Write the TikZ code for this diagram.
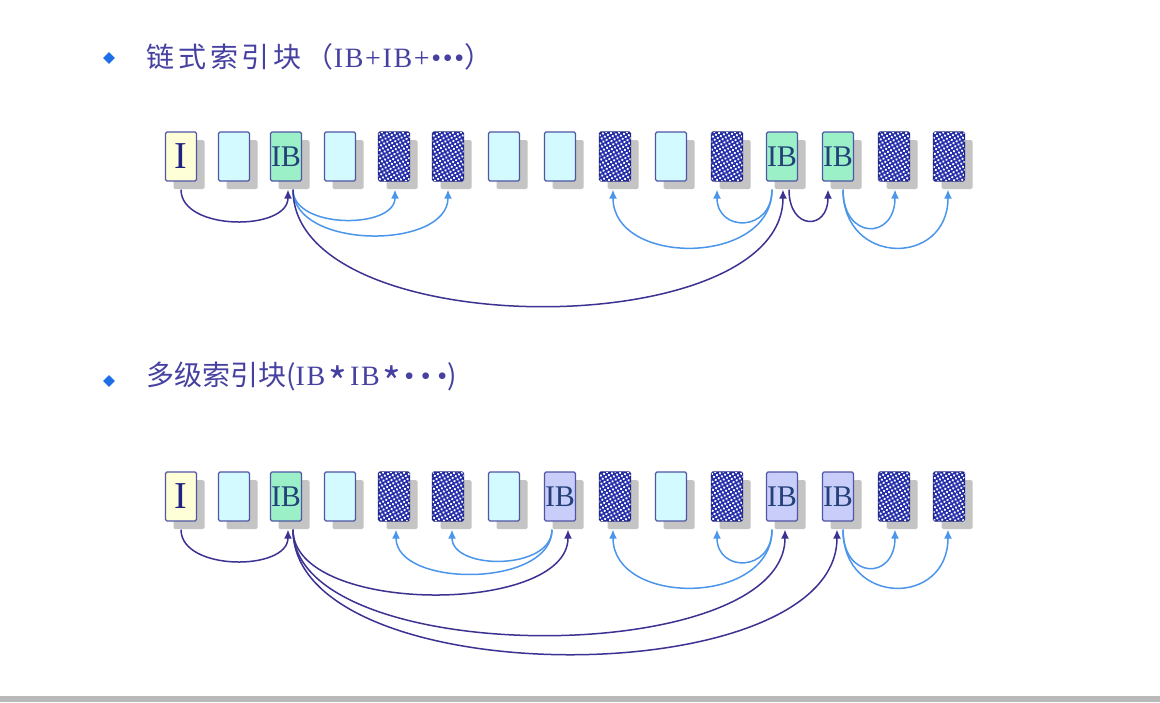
\documentclass[tikz,border=0pt]{standalone}
\usepackage{fontspec}
\usepackage{xcolor}
\usepackage{tikz}
\usetikzlibrary{calc}
\usetikzlibrary{arrows.meta}
\usetikzlibrary{shapes.geometric}
\usetikzlibrary{shadows}
\usetikzlibrary{patterns.meta}
\setmainfont{Liberation Serif}
\newfontfamily\cjk{Noto Sans CJK SC}
\newfontfamily\cjkwide[LetterSpace=14]{Noto Sans CJK SC}
\newfontfamily\latwide[LetterSpace=6]{Liberation Serif}
\newfontfamily\latwider[LetterSpace=24]{Liberation Serif}
\newcommand{\askbig}{\kern3pt\raisebox{-12pt}{\fontsize{40}{40}\selectfont *}\kern3pt}
\definecolor{blkline}{RGB}{80,85,165}
\definecolor{ifill}{RGB}{255,255,215}
\definecolor{efill}{RGB}{210,250,255}
\definecolor{ibgreen}{RGB}{155,240,200}
\definecolor{iblav}{RGB}{200,205,250}
\definecolor{datfill}{RGB}{35,45,170}
\definecolor{datline}{RGB}{30,35,130}
\definecolor{shade}{RGB}{196,196,196}
\definecolor{ibtext}{RGB}{35,65,120}
\definecolor{ptrcol}{RGB}{60,50,145}
\definecolor{lnkcol}{RGB}{75,150,235}
\definecolor{ttl}{RGB}{70,65,160}
\definecolor{bullet}{RGB}{30,110,230}
\tikzset{>={Latex[length=9pt,width=8pt]}}
\tikzstyle{blk} = [rectangle, draw=blkline, line width=1.2pt, rounded corners=1.5pt, minimum width=31pt, minimum height=49pt, inner sep=0pt, drop shadow={shadow xshift=8pt, shadow yshift=-8pt, fill=shade, opacity=1}, text=ibtext, font=\fontsize{30}{30}\selectfont]
\tikzstyle{inode} = [blk, fill=ifill, text=datline, font=\fontsize{38}{38}\selectfont]
\tikzstyle{emp} = [blk, fill=efill]
\tikzstyle{ib} = [blk, fill=ibgreen]
\tikzstyle{ibl} = [blk, fill=iblav]
\tikzstyle{dat} = [blk, draw=datline, fill=datfill, postaction={pattern={Dots[distance=3.6pt, radius=1.3pt, angle=30]}, pattern color=white}]
\tikzstyle{ptr} = [->, draw=ptrcol, line width=1.5pt]
\tikzstyle{lnk} = [->, draw=lnkcol, line width=1.5pt]

\begin{document}
\begin{tikzpicture}[x=1pt, y=1pt]
\fill [white] (0,0) rectangle (1160,-702);
\useasboundingbox (0,0) rectangle (1160,-702);
\fill [gray!55] (0,-696) rectangle (1160,-702);

% titles
\node [diamond, fill=bullet, inner sep=0pt, minimum size=12pt] (D1) at (109,-58) {};
\node [anchor=west, inner sep=0pt, text=ttl, font=\fontsize{28}{28}\selectfont] (T1) at (146,-57) {\cjkwide 链式索引块（{\latwide IB+IB+•••}）};
\node [diamond, fill=bullet, inner sep=0pt, minimum size=12pt] (D2) at (109,-381) {};
\node [anchor=west, inner sep=0pt, text=ttl, font=\fontsize{28}{28}\selectfont] (T2) at (146,-380) {\cjk 多级索引块({\latwide IB}\askbig{\latwide IB}\askbig{\latwider •••})};

% chained index blocks
\node [inode] (C1) at (181,-156.5) {I};
\node [emp] (C2) at (234,-156.5) {};
\node [ib] (C3) at (286,-156.5) {IB};
\node [emp] (C4) at (340,-156.5) {};
\node [dat] (C5) at (394,-156.5) {};
\node [dat] (C6) at (448,-156.5) {};
\node [emp] (C7) at (504,-156.5) {};
\node [emp] (C8) at (560,-156.5) {};
\node [dat] (C9) at (615,-156.5) {};
\node [emp] (C10) at (671,-156.5) {};
\node [dat] (C11) at (727,-156.5) {};
\node [ib] (C12) at (782,-156.5) {IB};
\node [ib] (C13) at (838,-156.5) {IB};
\node [dat] (C14) at (894,-156.5) {};
\node [dat] (C15) at (949,-156.5) {};

\draw [ptr] ($(C1.south)+(0,-8)$) to [out=-90, in=-90, looseness=1] ($(C3.south)+(2,-8)$);
\draw [lnk] ($(C3.south)+(7,-8)$) to [out=-90, in=-90, looseness=1] ($(C5.south)+(1,-8)$);
\draw [lnk] ($(C3.south)+(7,-8)$) to [out=-90, in=-90, looseness=1] ($(C6.south)+(0,-8)$);
\draw [ptr] ($(C3.south)+(7,-8)$) to [out=-90, in=-90, looseness=0.81] ($(C12.south)+(1,-8)$);
\draw [lnk] ($(C12.south)+(-10,-8)$) to [out=-90, in=-90, looseness=1.24] ($(C9.south)+(-2,-8)$);
\draw [lnk] ($(C12.south)+(-10,-8)$) to [out=-90, in=-90, looseness=2] ($(C11.south)+(-10,-8)$);
\draw [ptr] ($(C12.south)+(7,-8)$) to [out=-90, in=-90, looseness=2.7] ($(C13.south)+(-10,-8)$);
\draw [lnk] ($(C13.south)+(5,-8)$) to [out=-90, in=-90, looseness=2.5] ($(C14.south)+(1,-8)$);
\draw [lnk] ($(C13.south)+(5,-8)$) to [out=-90, in=-90, looseness=1.88] ($(C15.south)+(-1,-8)$);

% multi-level index blocks
\node [inode] (M1) at (181,-496.5) {I};
\node [emp] (M2) at (234,-496.5) {};
\node [ib] (M3) at (286,-496.5) {IB};
\node [emp] (M4) at (340,-496.5) {};
\node [dat] (M5) at (394,-496.5) {};
\node [dat] (M6) at (448,-496.5) {};
\node [emp] (M7) at (504,-496.5) {};
\node [ibl] (M8) at (560,-496.5) {IB};
\node [dat] (M9) at (615,-496.5) {};
\node [emp] (M10) at (671,-496.5) {};
\node [dat] (M11) at (727,-496.5) {};
\node [ibl] (M12) at (782,-496.5) {IB};
\node [ibl] (M13) at (838,-496.5) {IB};
\node [dat] (M14) at (894,-496.5) {};
\node [dat] (M15) at (949,-496.5) {};

\draw [ptr] ($(M1.south)+(0,-8)$) to [out=-90, in=-90, looseness=1] ($(M3.south)+(2,-8)$);
\draw [ptr] ($(M3.south)+(7,-8)$) to [out=-90, in=-90, looseness=0.8] ($(M8.south)+(8,-8)$);
\draw [ptr] ($(M3.south)+(7,-8)$) to [out=-90, in=-90, looseness=0.73] ($(M12.south)+(3,-8)$);
\draw [ptr] ($(M3.south)+(7,-8)$) to [out=-90, in=-90, looseness=0.78] ($(M13.south)+(-1,-8)$);
\draw [lnk] ($(M8.south)+(-8,-8)$) to [out=-90, in=-90, looseness=0.96] ($(M5.south)+(2,-8)$);
\draw [lnk] ($(M8.south)+(-8,-8)$) to [out=-90, in=-90, looseness=1.05] ($(M6.south)+(4,-8)$);
\draw [lnk] ($(M12.south)+(-10,-8)$) to [out=-90, in=-90, looseness=1.24] ($(M9.south)+(-2,-8)$);
\draw [lnk] ($(M12.south)+(-10,-8)$) to [out=-90, in=-90, looseness=2] ($(M11.south)+(-10,-8)$);
\draw [lnk] ($(M13.south)+(5,-8)$) to [out=-90, in=-90, looseness=2.5] ($(M14.south)+(1,-8)$);
\draw [lnk] ($(M13.south)+(5,-8)$) to [out=-90, in=-90, looseness=1.88] ($(M15.south)+(-1,-8)$);
\end{tikzpicture}
\end{document}
